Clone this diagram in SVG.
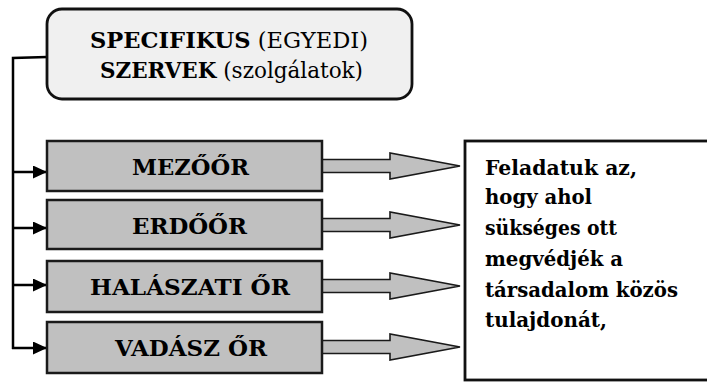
<svg xmlns="http://www.w3.org/2000/svg" width="707" height="383" viewBox="0 0 707 383">
<style>
.t{font-family:'DejaVu Serif','Liberation Serif',serif;font-size:23px;fill:#000}
.r{font-size:21px}
.b{font-weight:bold}
.box{fill:#c0c0c0;stroke:#1a1a1a;stroke-width:2.5}
.blk{fill:#c0c0c0;stroke:#1a1a1a;stroke-width:1.6;stroke-linejoin:miter}
.ln{fill:none;stroke:#000;stroke-width:2.5}
</style>
<defs>
<marker id="ah" markerWidth="14" markerHeight="13" refX="14" refY="6.5" orient="auto" markerUnits="userSpaceOnUse">
<path d="M0,0 L14,6.5 L0,13 Z" fill="#000"/>
</marker>
</defs>
<rect width="707" height="383" fill="#fff"/>
<g id="connectors">
<path class="ln" d="M47,57 L13,58 L13,349"/>
<path class="ln" d="M13,172 L47,172" marker-end="url(#ah)"/>
<path class="ln" d="M13,228 L47,228" marker-end="url(#ah)"/>
<path class="ln" d="M13,285 L47,285" marker-end="url(#ah)"/>
<path class="ln" d="M12,348 L47,348" marker-end="url(#ah)"/>
<path class="blk" d="M322,159.5 L390,159.5 L390,153 L460,166 L390,179 L390,172.5 L322,172.5 Z"/>
<path class="blk" d="M322,218.5 L390,218.5 L390,212 L460,225 L390,238 L390,231.5 L322,231.5 Z"/>
<path class="blk" d="M322,279.5 L390,279.5 L390,273 L460,286 L390,299 L390,292.5 L322,292.5 Z"/>
<path class="blk" d="M322,340.5 L390,340.5 L390,334 L460,347 L390,360 L390,353.5 L322,353.5 Z"/>
</g>
<g id="top">
<rect x="47" y="9" width="365" height="90" rx="15" ry="15" fill="#f0f0f0" stroke="#111" stroke-width="2.8"/>
<text class="t" x="90" y="48" textLength="278" lengthAdjust="spacingAndGlyphs"><tspan class="b">SPECIFIKUS</tspan> (EGYEDI)</text>
<text class="t" x="100" y="78" textLength="263" lengthAdjust="spacingAndGlyphs"><tspan class="b">SZERVEK</tspan> (szolgálatok)</text>
</g>
<g id="mezoor">
<rect class="box" x="47" y="141" width="275" height="50"/>
<text class="t b" x="132" y="175" textLength="117" lengthAdjust="spacingAndGlyphs">MEZŐŐR</text>
</g>
<g id="erdoor">
<rect class="box" x="47" y="200" width="275" height="49"/>
<text class="t b" x="132" y="234" textLength="115" lengthAdjust="spacingAndGlyphs">ERDŐŐR</text>
</g>
<g id="halaszati">
<rect class="box" x="47" y="261" width="275" height="51"/>
<text class="t b" x="90" y="295" textLength="200" lengthAdjust="spacingAndGlyphs">HALÁSZATI ŐR</text>
</g>
<g id="vadasz">
<rect class="box" x="47" y="322" width="275" height="51"/>
<text class="t b" x="115" y="356" textLength="152" lengthAdjust="spacingAndGlyphs">VADÁSZ ŐR</text>
</g>
<g id="feladat">
<rect x="465" y="141" width="250" height="239" fill="#fff" stroke="#111" stroke-width="2.8"/>
<text class="t r b" x="485" y="175" textLength="152" lengthAdjust="spacingAndGlyphs">Feladatuk az,</text>
<text class="t r b" x="485" y="204" textLength="107" lengthAdjust="spacingAndGlyphs">hogy ahol</text>
<text class="t r b" x="485" y="235" textLength="132" lengthAdjust="spacingAndGlyphs">sükséges ott</text>
<text class="t r b" x="485" y="266" textLength="138" lengthAdjust="spacingAndGlyphs">megvédjék a</text>
<text class="t r b" x="485" y="297" textLength="193" lengthAdjust="spacingAndGlyphs">társadalom közös</text>
<text class="t r b" x="485" y="327" textLength="122" lengthAdjust="spacingAndGlyphs">tulajdonát,</text>
</g>
</svg>
